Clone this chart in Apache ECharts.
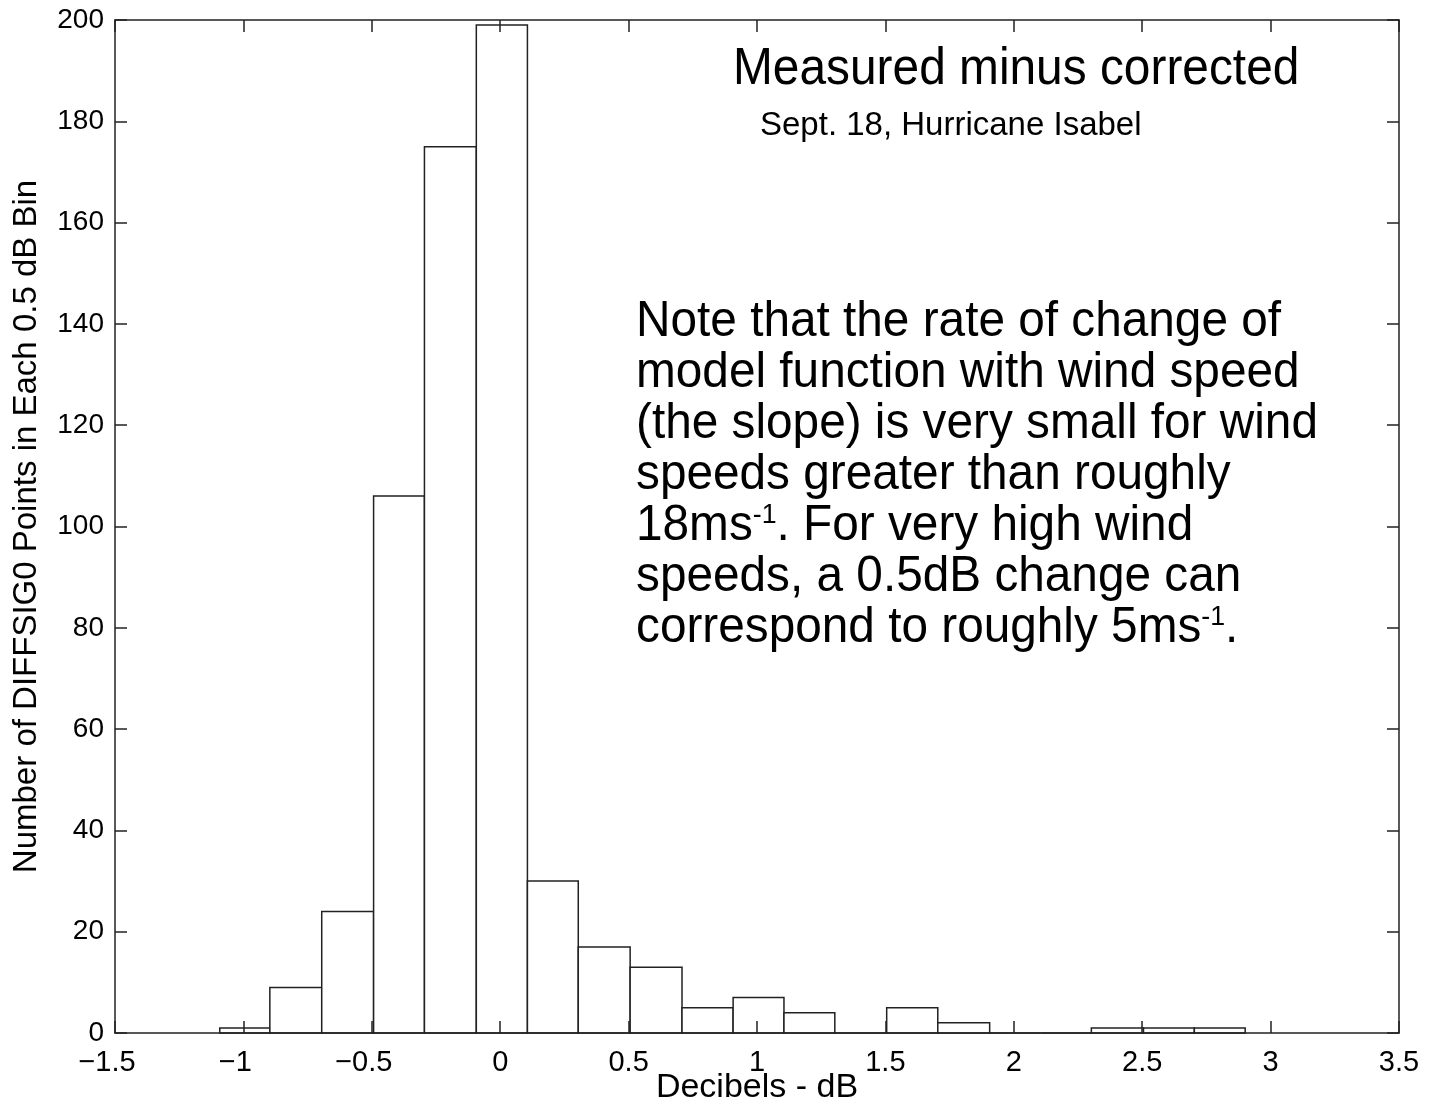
<!DOCTYPE html>
<html>
<head>
<meta charset="utf-8">
<script src="https://cdn.jsdelivr.net/npm/echarts@6/dist/echarts.min.js"></script>
<style>
html,body{margin:0;padding:0;background:#fff;}
#chart{width:1429px;height:1104px;}
</style>
</head>
<body>
<div id="chart"></div>
<script>
// Histogram bin edges (dB) and counts per bin
const binEdges = [-1.092, -0.897, -0.695, -0.493, -0.295, -0.093, 0.106, 0.304, 0.506, 0.708, 0.907,
                  1.105, 1.303, 1.505, 1.704, 1.906, 2.104, 2.302, 2.505, 2.703, 2.901];
const counts = [1, 9, 24, 106, 175, 199, 30, 17, 13, 5, 7, 4, 0, 5, 2, 0, 0, 1, 1, 1];
const xTicks = [-1.5, -1, -0.5, 0, 0.5, 1, 1.5, 2, 2.5, 3, 3.5];
const yTicks = [0, 20, 40, 60, 80, 100, 120, 140, 160, 180, 200];

const titleText = 'Measured minus corrected';
const subtitleText = 'Sept. 18, Hurricane Isabel';
const xName = 'Decibels - dB';
const yName = 'Number of DIFFSIG0 Points in Each 0.5 dB Bin';
const noteLines = [
  '{n|Note that the rate of change of}',
  '{n|model function with wind speed}',
  '{n|(the slope) is very small for wind}',
  '{n|speeds greater than roughly}',
  '{n|18ms}{s|-1}{n|. For very high wind}',
  '{n|speeds, a 0.5dB change can}',
  '{n|correspond to roughly 5ms}{s|-1}{n|.}'
];

const data = counts.map((c, i) => [binEdges[i], binEdges[i + 1], c]);

const FONT = '"Liberation Sans", Arial, Helvetica, sans-serif';
const fmtX = v => v < 0 ? '{neg|' + String(v).replace('-', '\u2212') + '}' : String(v);

const axisLineStyle = { color: '#222', width: 1.5 };
const axisCommon = {
  z: 5,
  axisLine: { show: true, onZero: false, lineStyle: axisLineStyle },
  axisTick: { show: true, inside: true, length: 12, lineStyle: axisLineStyle },
  splitLine: { show: false }
};

const chart = echarts.init(document.getElementById('chart'), null, { renderer: 'canvas' });
chart.setOption({
  backgroundColor: '#fff',
  animation: false,
  grid: { left: 115, right: 30, top: 20, bottom: 71, containLabel: false, outerBoundsMode: 'none' },
  xAxis: [
    Object.assign({
      type: 'value', position: 'bottom', min: xTicks[0], max: xTicks[xTicks.length - 1], interval: 0.5,
      name: xName, nameLocation: 'middle', nameGap: 38, nameMoveOverlap: false,
      nameTextStyle: { fontFamily: FONT, fontSize: 34, color: '#000' },
      axisLabel: {
        fontFamily: FONT, fontSize: 29, color: '#000', margin: 15, formatter: fmtX,
        rich: { neg: { fontFamily: FONT, fontSize: 29, color: '#000', padding: [0, 16, 0, 0] } }
      }
    }, axisCommon),
    Object.assign({
      type: 'value', position: 'top', min: xTicks[0], max: xTicks[xTicks.length - 1], interval: 0.5,
      axisLabel: { show: false }
    }, axisCommon)
  ],
  yAxis: [
    Object.assign({
      type: 'value', position: 'left', min: yTicks[0], max: yTicks[yTicks.length - 1], interval: 20,
      name: yName, nameLocation: 'middle', nameGap: 72,
      nameTextStyle: { fontFamily: FONT, fontSize: 33, color: '#000' },
      axisLabel: { fontFamily: FONT, fontSize: 28, color: '#000', margin: 11 }
    }, axisCommon),
    Object.assign({
      type: 'value', position: 'right', min: yTicks[0], max: yTicks[yTicks.length - 1], interval: 20,
      axisLabel: { show: false }
    }, axisCommon)
  ],
  series: [{
    type: 'custom',
    xAxisIndex: 0, yAxisIndex: 0,
    data: data,
    renderItem: function (params, api) {
      const x0 = api.value(0), x1 = api.value(1), c = api.value(2);
      const p0 = api.coord([x0, 0]);
      const p1 = api.coord([x1, c]);
      return {
        type: 'rect',
        shape: { x: p0[0], y: p1[1], width: p1[0] - p0[0], height: p0[1] - p1[1] },
        style: { fill: '#fff', stroke: '#222', lineWidth: 1.5 }
      };
    },
    z: 1
  }],
  graphic: [
    {
      type: 'text', x: 733, y: 70, z: 10, scaleX: 0.92, originX: 0, originY: 0,
      style: { text: titleText, font: '52px ' + FONT, fill: '#000', verticalAlign: 'middle' }
    },
    {
      type: 'text', x: 760, y: 126, z: 10,
      style: { text: subtitleText, font: '33px ' + FONT, fill: '#000', verticalAlign: 'middle' }
    },
    {
      type: 'text', x: 636, y: 297, z: 10, scaleX: 0.955, originX: 0, originY: 0,
      style: {
        text: noteLines.join('\n'),
        fill: '#000',
        verticalAlign: 'top',
        rich: {
          n: { fontFamily: FONT, fontSize: 50, lineHeight: 51, fill: '#000' },
          s: { fontFamily: FONT, fontSize: 28, lineHeight: 51, fill: '#000', verticalAlign: 'top' }
        }
      }
    }
  ]
});
</script>
</body>
</html>
